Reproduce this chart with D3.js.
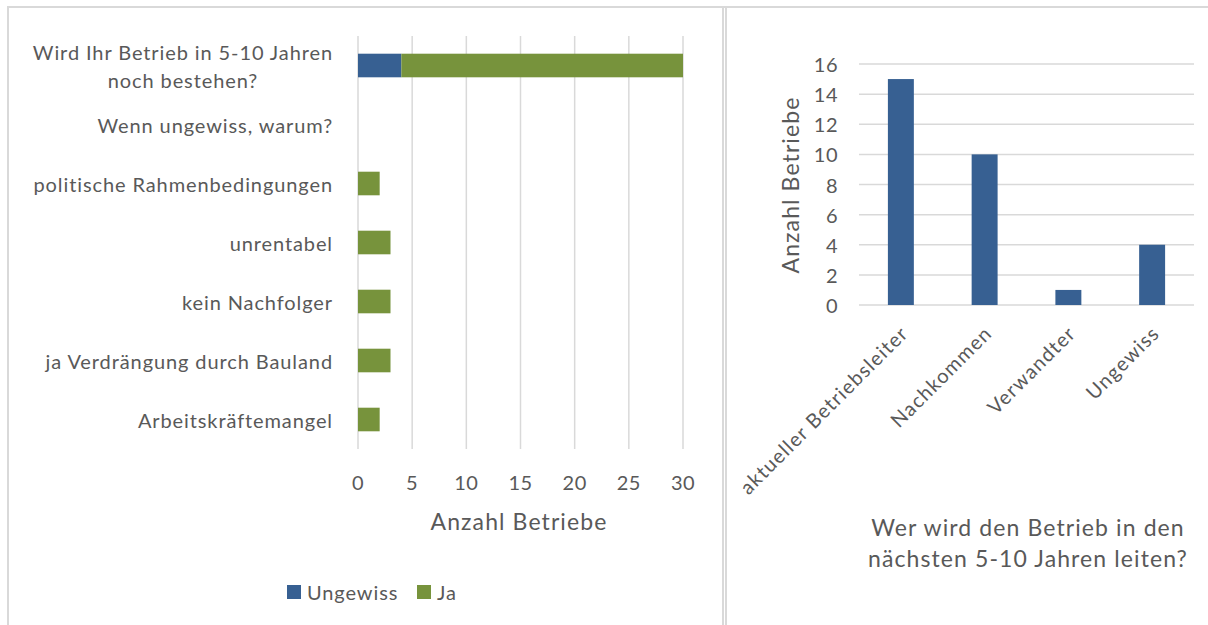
<!DOCTYPE html>
<html lang="de">
<head>
<meta charset="utf-8">
<script src="https://cdn.jsdelivr.net/npm/d3@7"></script>
<style>
  html, body { margin: 0; padding: 0; background: #fff; }
  svg { display: block; }
  text { font-family: Lato, "Open Sans", sans-serif; fill: #595959; }
</style>
</head>
<body>
<svg id="chart" width="1208" height="625"></svg>
<script>
// Umfrage: Fortbestand der Betriebe (gestapelte Balken)
const barCategories = [
  "Wird Ihr Betrieb in 5-10 Jahren|noch bestehen?",
  "Wenn ungewiss, warum?",
  "politische Rahmenbedingungen",
  "unrentabel",
  "kein Nachfolger",
  "ja Verdrängung durch Bauland",
  "Arbeitskräftemangel"
];
const seriesNames = ["Ungewiss", "Ja"];
const ungewissValues = [4, 0, 0, 0, 0, 0, 0];
const jaValues = [26, 0, 2, 3, 3, 3, 2];
const barTicks = [0, 5, 10, 15, 20, 25, 30];

// Nachfolge in der Betriebsleitung (Säulen)
const colCategories = ["aktueller Betriebsleiter", "Nachkommen", "Verwandter", "Ungewiss"];
const colValues = [15, 10, 1, 4];
const colTicks = [0, 2, 4, 6, 8, 10, 12, 14, 16];

const BLUE = "#376092";
const GREEN = "#77933C";
const GRID = "#d9d9d9";

const svg = d3.select("#chart");

// Rahmen der beiden Diagrammflächen
const frame = svg.append("g").attr("fill", "none").attr("stroke", GRID).attr("stroke-width", 2);
frame.append("line").attr("x1", 8).attr("x2", 1208).attr("y1", 7).attr("y2", 7);
frame.append("line").attr("x1", 8).attr("x2", 8).attr("y1", 6).attr("y2", 625);
frame.append("line").attr("x1", 723).attr("x2", 723).attr("y1", 6).attr("y2", 625);
frame.append("line").attr("x1", 726).attr("x2", 726).attr("y1", 6).attr("y2", 625);

// ---------- linkes Diagramm ----------
const x = d3.scaleLinear().domain([0, 30]).range([358, 683]);
const y = d3.scaleBand().domain(barCategories).range([36, 449]).paddingInner(0.6).paddingOuter(0.3);

const left = svg.append("g");

left.append("g")
  .selectAll("line").data(barTicks).join("line")
  .attr("x1", d => x(d)).attr("x2", d => x(d))
  .attr("y1", 36).attr("y2", 449)
  .attr("stroke", GRID).attr("stroke-width", 1.5);

const stackData = barCategories.map((c, i) => ({ cat: c, Ungewiss: ungewissValues[i], Ja: jaValues[i] }));
const stacked = d3.stack().keys(seriesNames)(stackData);
const colors = { Ungewiss: BLUE, Ja: GREEN };

left.append("g")
  .selectAll("g").data(stacked).join("g")
  .attr("fill", s => colors[s.key])
  .selectAll("rect").data(s => s.filter(d => d[1] > d[0])).join("rect")
  .attr("x", d => x(d[0]))
  .attr("width", d => x(d[1]) - x(d[0]))
  .attr("y", d => y(d.data.cat))
  .attr("height", y.bandwidth());

// Kategorienbeschriftung (rechtsbündig, mehrzeilig zentriert)
const catLabels = left.append("g").attr("font-size", 20).attr("letter-spacing", 0.9);
barCategories.forEach(c => {
  const lines = c.split("|");
  const cy = y(c) + y.bandwidth() / 2;
  if (lines.length === 1) {
    catLabels.append("text")
      .attr("x", 333).attr("y", cy)
      .attr("text-anchor", "end").attr("dominant-baseline", "central")
      .text(lines[0]);
  } else {
    const first = catLabels.append("text")
      .attr("x", 333).attr("y", cy - 14)
      .attr("text-anchor", "end").attr("dominant-baseline", "central")
      .text(lines[0]);
    const w = first.node().getComputedTextLength();
    catLabels.append("text")
      .attr("x", 333 - w / 2).attr("y", cy + 14)
      .attr("text-anchor", "middle").attr("dominant-baseline", "central")
      .text(lines[1]);
  }
});

left.append("g").attr("font-size", 20).attr("letter-spacing", 0.5)
  .selectAll("text").data(barTicks).join("text")
  .attr("x", d => x(d)).attr("y", 482)
  .attr("text-anchor", "middle").attr("dominant-baseline", "central")
  .text(d => d);

left.append("text")
  .attr("x", 519).attr("y", 521)
  .attr("font-size", 23).attr("letter-spacing", 1.1)
  .attr("text-anchor", "middle").attr("dominant-baseline", "central")
  .text("Anzahl Betriebe");

// Legende
const legend = left.append("g").attr("font-size", 20).attr("letter-spacing", 0.9);
const legendPos = [287, 417];
seriesNames.forEach((name, i) => {
  legend.append("rect")
    .attr("x", legendPos[i]).attr("y", 585).attr("width", 14).attr("height", 14)
    .attr("fill", colors[name]);
  legend.append("text")
    .attr("x", legendPos[i] + 20).attr("y", 592)
    .attr("dominant-baseline", "central")
    .text(name);
});

// ---------- rechtes Diagramm ----------
const cx = d3.scaleBand().domain(colCategories).range([859, 1194]).paddingInner(0.69).paddingOuter(0.345);
const cy = d3.scaleLinear().domain([0, 16]).range([305, 64]);

const right = svg.append("g");

right.append("g")
  .selectAll("line").data(colTicks).join("line")
  .attr("x1", 859).attr("x2", 1194)
  .attr("y1", d => cy(d)).attr("y2", d => cy(d))
  .attr("stroke", GRID).attr("stroke-width", 1.5);

right.append("g")
  .selectAll("rect").data(colCategories).join("rect")
  .attr("fill", BLUE)
  .attr("x", d => cx(d))
  .attr("width", cx.bandwidth())
  .attr("y", (d, i) => cy(colValues[i]))
  .attr("height", (d, i) => cy(0) - cy(colValues[i]));

right.append("g").attr("font-size", 20).attr("letter-spacing", 0.5)
  .selectAll("text").data(colTicks).join("text")
  .attr("x", 838).attr("y", d => cy(d))
  .attr("text-anchor", "end").attr("dominant-baseline", "central")
  .text(d => d);

right.append("text")
  .attr("transform", "translate(790,185) rotate(-90)")
  .attr("font-size", 23).attr("letter-spacing", 1.1)
  .attr("text-anchor", "middle").attr("dominant-baseline", "central")
  .text("Anzahl Betriebe");

right.append("g").attr("font-size", 20).attr("letter-spacing", 1.2)
  .selectAll("text").data(colCategories).join("text")
  .attr("transform", d => `translate(${cx(d) + cx.bandwidth() / 2 + 3},${329}) rotate(-45)`)
  .attr("text-anchor", "end").attr("dominant-baseline", "central")
  .text(d => d);

const title = right.append("g").attr("font-size", 23).attr("letter-spacing", 1.1).attr("text-anchor", "middle");
title.append("text").attr("x", 1028).attr("y", 527).attr("dominant-baseline", "central")
  .text("Wer wird den Betrieb in den");
title.append("text").attr("x", 1028).attr("y", 558).attr("dominant-baseline", "central")
  .text("nächsten 5-10 Jahren leiten?");
</script>
</body>
</html>
